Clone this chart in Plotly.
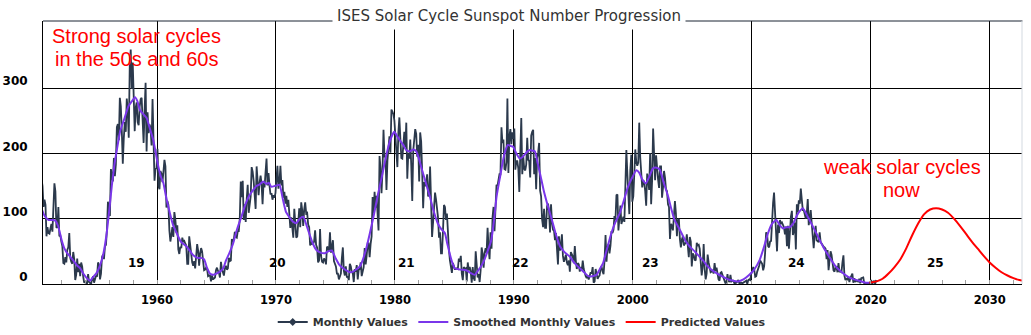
import plotly.graph_objects as go

# ---------------- data ----------------
start_year = 1950
monthly_1950s = [
    144, 134, 155, 161, 150, 118, 129, 121, 73, 87, 78, 77,
    85, 92, 80, 132, 154, 142, 87, 86, 118, 73, 74, 65,
    58, 32, 31, 41, 33, 52, 56, 78, 40, 34, 31, 49,
    38, 6, 14, 39, 18, 31, 12, 33, 27, 12, 2, 4,
    0, 1, 15, 3, 1, 0, 7, 12, 2, 10, 13, 11,
    33, 29, 7, 16, 41, 45, 38, 58, 60, 83, 126, 109,
    104, 176, 168, 157, 193, 165, 183, 240, 245, 220, 285, 272,
    234, 184, 223, 248, 233, 284, 265, 224, 334, 359, 299, 339,
    287, 234, 270, 278, 248, 243, 271, 283, 285, 257, 216, 266,
    308, 203, 263, 231, 244, 239, 212, 283, 206, 158, 176, 177,
]
monthly_1960s = [
    207, 150, 145, 173, 169, 156, 172, 190, 180, 117, 127, 121,
    82, 65, 75, 87, 72, 110, 99, 79, 90, 53, 46, 57,
    55, 71, 65, 66, 62, 59, 31, 31, 73, 56, 38, 33,
    28, 35, 24, 41, 61, 51, 28, 47, 55, 50, 33, 21,
    22, 25, 23, 12, 13, 13, 4, 13, 7, 9, 10, 21,
    25, 20, 17, 10, 34, 23, 17, 13, 24, 28, 22, 24,
    40, 35, 36, 69, 64, 68, 80, 72, 71, 81, 81, 100,
    157, 133, 158, 98, 122, 95, 130, 152, 109, 125, 134, 179,
    172, 158, 131, 115, 180, 156, 136, 155, 166, 153, 122, 155,
    148, 171, 192, 151, 170, 150, 137, 139, 129, 136, 132, 139,
]
monthly_1970s = [
    158, 181, 146, 155, 181, 151, 159, 132, 141, 123, 135, 118,
    129, 112, 86, 102, 81, 71, 115, 87, 71, 73, 89, 116,
    87, 125, 113, 89, 114, 125, 108, 109, 91, 87, 59, 64,
    61, 61, 65, 82, 60, 56, 33, 36, 84, 43, 34, 33,
    39, 37, 30, 57, 56, 51, 79, 48, 57, 67, 35, 29,
    27, 16, 16, 7, 13, 16, 40, 56, 20, 13, 27, 11,
    11, 6, 31, 27, 18, 17, 3, 23, 19, 29, 7, 22,
    23, 33, 12, 18, 26, 55, 30, 43, 62, 62, 41, 61,
    73, 133, 108, 141, 117, 135, 100, 82, 196, 177, 139, 174,
    236, 195, 195, 144, 190, 212, 226, 201, 267, 264, 260, 250,
]
monthly_1980s = [
    226, 219, 179, 232, 255, 223, 193, 192, 219, 233, 209, 247,
    161, 200, 192, 221, 181, 127, 204, 225, 237, 230, 195, 213,
    157, 232, 218, 173, 116, 156, 150, 152, 168, 134, 139, 180,
    119, 72, 94, 114, 140, 129, 116, 102, 71, 79, 47, 47,
    81, 121, 118, 98, 108, 65, 53, 36, 22, 17, 32, 26,
    23, 23, 24, 23, 39, 34, 43, 16, 6, 26, 23, 24,
    4, 33, 21, 26, 19, 2, 26, 10, 5, 50, 22, 10,
    15, 3, 21, 56, 47, 25, 47, 55, 48, 86, 56, 38,
    79, 54, 102, 118, 81, 136, 152, 150, 161, 168, 168, 240,
    216, 221, 176, 175, 186, 284, 170, 226, 237, 214, 232, 222,
]
monthly_1990s = [
    238, 175, 188, 188, 177, 141, 200, 254, 168, 195, 176, 174,
    183, 224, 190, 188, 163, 227, 233, 236, 168, 193, 145, 193,
    201, 216, 143, 134, 99, 87, 115, 86, 86, 119, 123, 111,
    79, 122, 94, 83, 82, 67, 78, 57, 30, 73, 51, 60,
    76, 43, 34, 39, 45, 33, 29, 36, 19, 49, 44, 42,
    32, 58, 36, 23, 32, 30, 19, 26, 21, 36, 23, 16,
    12, 9, 13, 7, 14, 18, 16, 26, 2, 4, 23, 12,
    8, 11, 13, 23, 27, 19, 15, 36, 75, 34, 57, 61,
    47, 59, 81, 78, 83, 104, 98, 136, 137, 82, 109, 120,
    92, 99, 103, 95, 159, 205, 169, 140, 107, 174, 198, 126,
]
monthly_2000s = [
    134, 168, 206, 187, 181, 186, 247, 194, 163, 148, 159, 156,
    142, 120, 169, 160, 144, 200, 122, 159, 238, 187, 159, 197,
    170, 160, 147, 180, 180, 132, 148, 173, 163, 145, 142, 122,
    118, 69, 92, 89, 82, 115, 127, 108, 73, 98, 100, 69,
    56, 68, 73, 59, 62, 64, 76, 61, 41, 72, 65, 27,
    47, 44, 37, 36, 63, 59, 60, 54, 33, 13, 27, 61,
    23, 7, 16, 45, 33, 21, 18, 19, 21, 16, 32, 20,
    25, 16, 7, 5, 17, 18, 14, 9, 4, 1, 3, 15,
    5, 3, 14, 4, 5, 5, 1, 1, 2, 4, 6, 1,
    2, 2, 1, 2, 4, 4, 5, 0, 6, 7, 6, 16,
]
monthly_2010s = [
    19, 26, 22, 11, 12, 19, 23, 28, 36, 33, 31, 21,
    27, 48, 79, 76, 58, 56, 65, 66, 111, 124, 140, 109,
    83, 50, 91, 78, 98, 92, 94, 89, 87, 76, 88, 58,
    89, 54, 82, 103, 112, 75, 81, 94, 53, 122, 110, 128,
    123, 146, 129, 113, 113, 103, 100, 107, 130, 90, 104, 113,
    93, 67, 55, 75, 89, 67, 66, 64, 79, 64, 62, 58,
    57, 56, 54, 38, 52, 21, 32, 50, 45, 33, 21, 19,
    26, 26, 18, 32, 19, 19, 18, 33, 44, 13, 6, 8,
    7, 11, 3, 9, 13, 16, 2, 9, 3, 5, 5, 3,
    8, 1, 9, 9, 10, 1, 1, 1, 1, 0, 1, 2,
]
monthly_2020s = [6, 0, 2, 5, 0, 6]

smoothed_years = [
    1950.0, 1950.3, 1950.6, 1950.9, 1951.2, 1951.45, 1951.7, 1952.0, 1952.2, 1952.5,
    1952.7, 1953.0, 1953.3, 1953.55, 1953.8, 1954.1, 1954.37, 1954.6, 1954.93, 1955.2,
    1955.5, 1955.75, 1956.0, 1956.2, 1956.4, 1956.65, 1956.9, 1957.2, 1957.6, 1957.9,
    1958.15, 1958.35, 1958.57, 1958.85, 1959.13, 1959.4, 1959.69, 1959.9, 1960.11, 1960.35,
    1960.53, 1960.8, 1961.09, 1961.35, 1961.65, 1962.0, 1962.5, 1962.8, 1963.05, 1963.4,
    1963.7, 1963.95, 1964.2, 1964.45, 1964.75, 1965.0, 1965.3, 1965.57, 1965.8, 1966.1,
    1966.4, 1966.75, 1967.1, 1967.4, 1967.75, 1968.09, 1968.35, 1968.6, 1968.93, 1969.2,
    1969.4, 1969.6, 1969.9, 1970.1, 1970.3, 1970.6, 1970.85, 1971.1, 1971.4, 1971.7,
    1972.0, 1972.3, 1972.6, 1972.9, 1973.1, 1973.4, 1973.75, 1974.1, 1974.4, 1974.7,
    1975.0, 1975.3, 1975.65, 1975.9, 1976.2, 1976.5, 1976.8, 1977.06, 1977.3, 1977.6,
    1977.9, 1978.2, 1978.55, 1978.9, 1979.25, 1979.6, 1979.95, 1980.2, 1980.45, 1980.7,
    1980.95, 1981.26, 1981.55, 1981.8, 1982.0, 1982.2, 1982.55, 1982.94, 1983.25, 1983.6,
    1983.9, 1984.2, 1984.4, 1984.6, 1984.8, 1985.04, 1985.5, 1986.0, 1986.35, 1986.7,
    1987.05, 1987.4, 1987.75, 1988.1, 1988.35, 1988.55, 1988.85, 1989.1, 1989.3, 1989.5,
    1989.75, 1989.94, 1990.2, 1990.5, 1990.7, 1990.9, 1991.15, 1991.35, 1991.55, 1991.77,
    1992.0, 1992.25, 1992.5, 1992.85, 1993.2, 1993.55, 1993.9, 1994.3, 1994.7, 1995.1,
    1995.55, 1995.9, 1996.25, 1996.6, 1996.95, 1997.2, 1997.5, 1997.85, 1998.2, 1998.55,
    1998.9, 1999.25, 1999.6, 1999.95, 2000.3, 2000.55, 2000.8, 2001.1, 2001.4, 2001.7,
    2002.0, 2002.27, 2002.6, 2002.97, 2003.25, 2003.5, 2003.75, 2003.95, 2004.4, 2004.8,
    2005.2, 2005.6, 2005.9, 2006.2, 2006.6, 2007.1, 2007.6, 2008.2, 2008.85, 2009.3,
    2009.8, 2010.2, 2010.67, 2011.0, 2011.37, 2011.7, 2012.07, 2012.35, 2012.63, 2012.9,
    2013.2, 2013.5, 2013.8, 2014.05, 2014.3, 2014.65, 2015.0, 2015.5, 2016.0, 2016.5,
    2016.97, 2017.5, 2018.1, 2018.6, 2019.2, 2019.6, 2019.9,
]
smoothed_values = [
    136, 115, 103, 98, 98, 97, 88, 66, 55, 46,
    42, 35, 28, 24, 16, 9, 5, 10, 17, 28,
    47, 75, 115, 150, 180, 208, 234, 250, 272, 280,
    286, 280, 266, 260, 254, 238, 220, 200, 180, 163,
    155, 130, 108, 90, 78, 65, 57, 50, 44, 40,
    40, 38, 25, 16, 14, 16, 19, 24, 36, 48,
    62, 85, 103, 120, 135, 144, 150, 152, 157, 153,
    155, 149, 150, 151, 152, 128, 110, 103, 96, 93,
    100, 103, 88, 72, 62, 52, 48, 47, 50, 51,
    40, 30, 24, 21, 18, 19, 23, 27, 37, 55,
    78, 103, 135, 164, 195, 220, 233, 226, 219, 213,
    205, 203, 206, 203, 193, 180, 158, 134, 112, 93,
    84, 78, 62, 47, 34, 24, 22, 21, 17, 14,
    22, 32, 48, 67, 100, 134, 165, 190, 205, 213,
    211, 210, 200, 192, 194, 198, 203, 205, 204, 203,
    185, 165, 144, 120, 98, 75, 57, 48, 42, 32,
    24, 18, 12, 12, 14, 22, 32, 55, 78, 95,
    108, 128, 149, 163, 174, 170, 160, 154, 165, 177,
    178, 175, 155, 134, 114, 98, 90, 83, 67, 57,
    50, 42, 36, 29, 22, 16, 11, 6, 4, 7,
    14, 22, 37, 55, 78, 92, 98, 90, 85, 87,
    87, 93, 105, 112, 116, 105, 93, 75, 57, 42,
    29, 19, 11, 7, 4, 2, 2,
]

predicted_years = [
    2019.9, 2020.5, 2021.0, 2021.5, 2022.0, 2022.5, 2023.0, 2023.5, 2024.0, 2024.5,
    2025.0, 2025.5, 2026.0, 2026.5, 2027.0, 2027.5, 2028.0, 2028.5, 2029.0, 2029.5,
    2030.0, 2030.5, 2031.0, 2031.5, 2032.0, 2032.5, 2032.8,
]
predicted_values = [
    2, 4, 8, 16, 26, 38, 55, 75, 93, 107,
    114, 116, 114, 109, 100, 89, 77, 65, 54, 43,
    33, 25, 18, 13, 9, 6, 5,
]

cycle_labels = ["19", "20", "21", "22", "23", "24", "25"]
cycle_label_years = [1958.3, 1970.1, 1981.0, 1990.6, 2001.5, 2013.8, 2025.45]

x_ticks = [1960, 1970, 1980, 1990, 2000, 2010, 2020, 2030]
y_ticks = [0, 100, 200, 300]

# ---------------- build ----------------
monthly_values = (monthly_1950s + monthly_1960s + monthly_1970s + monthly_1980s
                  + monthly_1990s + monthly_2000s + monthly_2010s + monthly_2020s)
monthly_years = [start_year + (i + 0.5) / 12 for i in range(len(monthly_values))]

MONTHLY_C = "#2b394c"
SMOOTH_C = "#7a36ea"
RED = "#ff0000"
BOLD = "DejaVu Sans"

fig = go.Figure()
fig.add_trace(go.Scatter(
    x=monthly_years, y=monthly_values, mode="lines",
    line=dict(color=MONTHLY_C, width=1.8), showlegend=False, hoverinfo="skip"))
fig.add_trace(go.Scatter(
    x=[None], y=[None], mode="lines+markers", name="Monthly Values",
    line=dict(color=MONTHLY_C, width=2), marker=dict(symbol="diamond", size=6, color=MONTHLY_C),
    legendrank=1))
fig.add_trace(go.Scatter(
    x=smoothed_years, y=smoothed_values, mode="lines", name="Smoothed Monthly Values",
    line=dict(color=SMOOTH_C, width=2, shape="spline", smoothing=0.5), legendrank=2))
fig.add_trace(go.Scatter(
    x=predicted_years, y=predicted_values, mode="lines", name="Predicted Values",
    line=dict(color=RED, width=2, shape="spline", smoothing=0.8), legendrank=3))

annotations = []
for lab, yr in zip(cycle_labels, cycle_label_years):
    annotations.append(dict(x=yr, y=32.6, xref="x", yref="y", text=lab, showarrow=False,
                            font=dict(family=BOLD, size=12, color="#000000", weight="bold")))

red_font = dict(family="Liberation Sans, Arial", size=20, color=RED)
annotations += [
    dict(x=1958.28, y=380.4, xref="x", yref="y", text="Strong solar cycles", showarrow=False, font=red_font),
    dict(x=1958.28, y=345.2, xref="x", yref="y", text="in the 50s and 60s", showarrow=False, font=red_font),
    dict(x=2022.59, y=179.4, xref="x", yref="y", text="weak solar cycles", showarrow=False, font=red_font),
    dict(x=2022.6, y=143.9, xref="x", yref="y", text="now", showarrow=False, font=red_font),
    dict(x=0.476, y=1.019, xref="paper", yref="paper", text="ISES Solar Cycle Sunspot Number Progression",
         showarrow=False, bgcolor="white", borderpad=4, yanchor="middle",
         font=dict(family="DejaVu Sans", size=15, color="#333333")),
]

shapes = [
    dict(type="line", xref="paper", yref="paper", x0=0, x1=1.0005, y0=1, y1=1,
         line=dict(color="#1a2533", width=1)),
    dict(type="line", xref="paper", yref="paper", x0=1, x1=1, y0=0, y1=1,
         line=dict(color="#d3d9e0", width=1)),
]

fig.update_layout(
    width=1031, height=335,
    margin=dict(l=43, r=9, t=21, b=51, autoexpand=False),
    paper_bgcolor="white", plot_bgcolor="white",
    annotations=annotations, shapes=shapes,
    legend=dict(orientation="h", x=0.489, xanchor="center", y=-0.1445, yanchor="middle",
                font=dict(family=BOLD, size=11, color="#333333", weight="bold"),
                itemwidth=30, bgcolor="rgba(0,0,0,0)"),
    xaxis=dict(range=[1950.416, 2032.72], tickvals=x_ticks, showgrid=True,
               gridcolor="#000000", gridwidth=1, showline=True, linecolor="#000000",
               linewidth=1, zeroline=False, ticks="",
               tickfont=dict(family=BOLD, size=11.5, color="#000000", weight="bold"),
               ticklabelstandoff=5,
               minor=dict(tick0=1950, dtick=2, ticks="inside", ticklen=4,
                          tickcolor="#a0a0a0", showgrid=False)),
    yaxis=dict(range=[0, 402.6], tickvals=y_ticks, showgrid=True, gridcolor="#000000",
               gridwidth=1, showline=True, linecolor="#000000", linewidth=1,
               zeroline=False, ticks="",
               tickfont=dict(family=BOLD, size=12, color="#000000", weight="bold"),
               ticklabelstandoff=12, ticklabelshift=-7),
    hovermode=False,
)

fig.write_html("out.html", config={"displayModeBar": False})
